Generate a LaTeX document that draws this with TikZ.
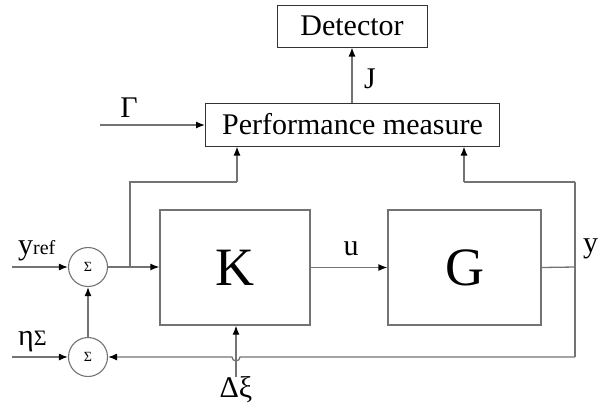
\documentclass[tikz,border=0pt]{standalone}
\usepackage{fontspec}
\setmainfont{Liberation Serif}
\usetikzlibrary{arrows.meta}
\tikzset{
  ln/.style={draw=black!55, line width=1.3pt},
  arr/.style={ln, -{Latex[length=9pt,width=7pt,color=black]}},
  graybox/.style={draw=black!55, line width=1.3pt, minimum width=150pt, minimum height=115pt, inner sep=0pt},
  txtbox/.style={draw=black!80, line width=1pt, inner sep=0pt},
  sumnode/.style={circle, draw=black!55, line width=1.1pt, minimum size=39pt, inner sep=0pt, font=\fontsize{14}{14}\selectfont},
  lbl/.style={inner sep=0pt, font=\fontsize{30}{30}\selectfont}
}
\begin{document}
\begin{tikzpicture}[x=1pt,y=-1pt]
\useasboundingbox (0,0) rectangle (599,410);
% boxes
\node[txtbox, minimum width=150pt, minimum height=42pt, font=\fontsize{30}{30}\selectfont] (det) at (352,26) {Detector};
\node[txtbox, minimum width=294pt, minimum height=43pt, font=\fontsize{30}{30}\selectfont] (pm) at (352.5,124.5) {Performance measure};
\node[graybox, font=\fontsize{54}{54}\selectfont] (K) at (235,267.5) {K};
\node[graybox, minimum width=153pt, font=\fontsize{54}{54}\selectfont] (G) at (464.5,267.5) {G};
\node[sumnode] (s1) at (88,267) {Σ};
\node[sumnode] (s2) at (88,357) {Σ};
% coordinates
\coordinate (yin) at (12,267);
\coordinate (etain) at (12,357);
\coordinate (gin) at (100,125);
\coordinate (br) at (130,267);
\coordinate (brtop) at (130,182);
\coordinate (pml) at (237,182);
\coordinate (rr) at (575,267);
\coordinate (rtop) at (575,182);
\coordinate (pmr) at (464,182);
\coordinate (rbot) at (575,357);
\node[lbl] (dxi) at (236,390) {Δξ};
% labels
\node[lbl, anchor=base] (J) at (370,88) {J};
\node[lbl, anchor=base] (Gam) at (129,117) {Γ};
\node[lbl, anchor=base] (u) at (351,255) {u};
\node[lbl, anchor=base west] (y) at (583,252) {y};
\node[lbl, anchor=base west] (yref) at (18,254) {y{\fontsize{20}{20}\selectfont ref}};
\node[lbl, anchor=base west] (eta) at (18,345) {η{\fontsize{22}{22}\selectfont Σ}};
% connectors
\draw[arr] (pm.north -| det) -- (det.south);
\draw[arr] (gin) -- (pm.west |- gin);
\draw[arr] (yin) -- (s1.west);
\draw[arr] (etain) -- (s2.west);
\draw[arr] (s2.north) -- (s1.south);
\draw[arr] (s1.east) -- (K.west |- s1);
\draw[ln] (br) -- (brtop) -- (pml);
\draw[arr] (pml) -- (pml |- pm.south);
\draw[arr] (K.east) -- (G.west);
\draw[ln] (G.east) -- (rr);
\draw[ln] (rtop) -- (rbot);
\draw[ln] (rtop) -- (pmr);
\draw[arr] (pmr) -- (pmr |- pm.south);
\draw[arr] (rbot) -- (240,357) arc[start angle=0, end angle=180, radius=4] -- (s2.east);
\draw[arr] (dxi.north) -- (K.south -| dxi);
\end{tikzpicture}
\end{document}
